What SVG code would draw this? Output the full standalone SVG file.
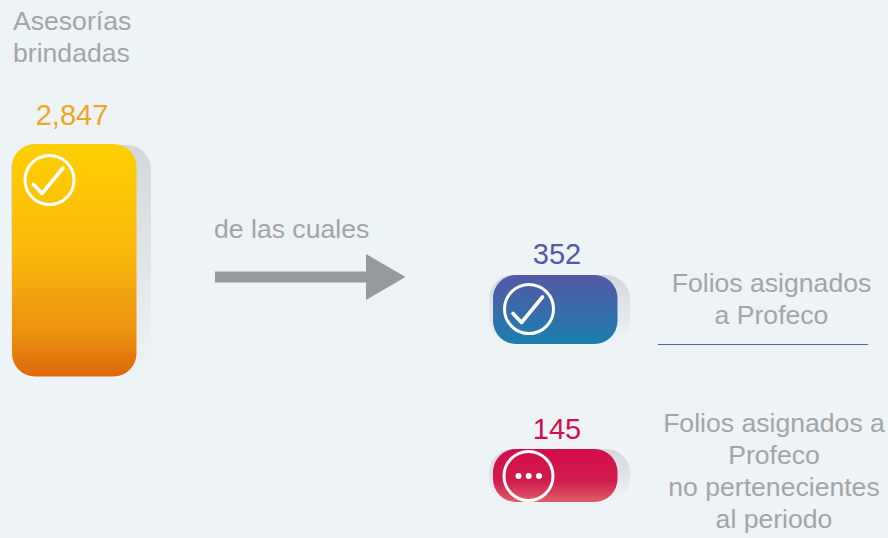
<svg xmlns="http://www.w3.org/2000/svg" width="888" height="538" viewBox="0 0 888 538">
<style>
text{font-family:"Liberation Sans",Arial,sans-serif;font-size:26.6px}
text.n{font-size:29px}
.g{fill:#a3a5a7}
.m{text-anchor:middle}
.ring{fill:none;stroke:#fff;stroke-width:3}
.chk{fill:none;stroke:#fff;stroke-width:3.6;stroke-linecap:round;stroke-linejoin:round}
</style>
<defs>
<linearGradient id="y" x1="0" y1="0" x2="0" y2="1"><stop offset="0" stop-color="#ffd000"/><stop offset=".45" stop-color="#f9b90c"/><stop offset=".8" stop-color="#ec940f"/><stop offset="1" stop-color="#dd670b"/></linearGradient>
<linearGradient id="b" x1="0" y1="0" x2="0" y2="1"><stop offset="0" stop-color="#5558a6"/><stop offset="1" stop-color="#1a7fae"/></linearGradient>
<linearGradient id="r" x1="0" y1="0" x2="0" y2="1"><stop offset="0" stop-color="#d50c4d"/><stop offset=".6" stop-color="#d01c4c"/><stop offset="1" stop-color="#df5d68"/></linearGradient>
<linearGradient id="s" x1="0" y1="0" x2="0" y2="1"><stop offset="0" stop-color="#d3d8dc"/><stop offset="1" stop-color="#eef3f6"/></linearGradient>
</defs>
<rect width="888" height="538" fill="#eef3f6"/>
<g id="asesorias">
<text class="g" x="13" y="30">Asesorías</text>
<text class="g" x="13" y="62">brindadas</text>
<text x="72" y="125" class="m n" fill="#eaa825">2,847</text>
<rect x="11" y="145" width="140" height="231" rx="24" fill="url(#s)"/>
<rect x="12" y="144" width="124.500" height="232.500" rx="23" fill="url(#y)"/>
<circle class="ring" cx="49.500" cy="180" r="24.500"/>
<path class="chk" d="M33.500 184.500 42 193.500 63 168"/>
</g>
<g id="folios-profeco">
<text x="557" y="264" class="m n" fill="#5558a6">352</text>
<rect x="489" y="275" width="141" height="69" rx="24" fill="url(#s)"/>
<rect x="493" y="275" width="124.500" height="69" rx="23" fill="url(#b)"/>
<circle class="ring" cx="529" cy="309" r="24.500"/>
<path class="chk" d="M513 313.500 521.500 322.500 542.500 297"/>
<text class="g m" x="771.500" y="292">Folios asignados</text>
<text class="g m" x="771.500" y="324">a Profeco</text>
<line x1="658" y1="344.500" x2="868" y2="344.500" stroke="#5b63ab" stroke-width="1"/>
</g>
<g id="folios-fuera">
<text x="557" y="439" class="m n" fill="#d50c4d">145</text>
<rect x="489" y="449" width="141" height="53" rx="24" fill="url(#s)"/>
<rect x="493" y="449" width="124.500" height="53" rx="23" fill="url(#r)"/>
<circle class="ring" cx="528.500" cy="476" r="24.500"/>
<g fill="#fff"><circle cx="518.500" cy="476" r="3"/><circle cx="528.700" cy="476" r="3"/><circle cx="539" cy="476" r="3"/></g>
<text class="g m" x="774" y="432">Folios asignados a</text>
<text class="g m" x="774" y="464">Profeco</text>
<text class="g m" x="774" y="496">no pertenecientes</text>
<text class="g m" x="774" y="528">al periodo</text>
</g>
<g id="connectors">
<text class="g" x="214" y="238">de las cuales</text>
<path d="M215 271.500H366V254L405.500 277 366 300V282.500H215Z" fill="#969a9c"/>
</g>
</svg>
